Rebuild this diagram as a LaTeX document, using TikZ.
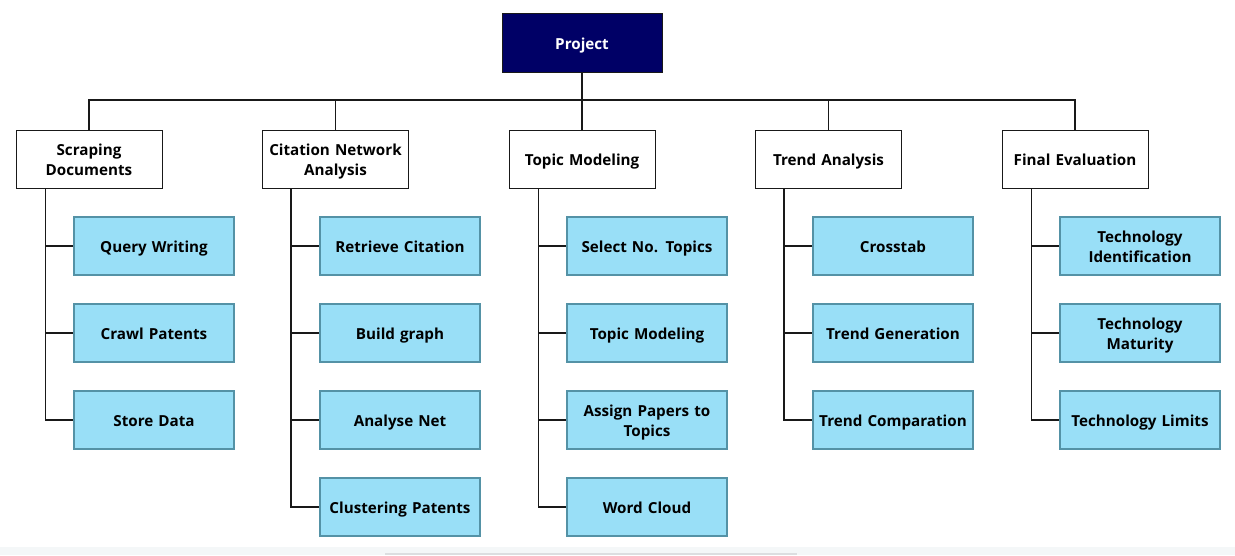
\documentclass[tikz,border=0pt]{standalone}
\usepackage{fontspec}
\setmainfont{Open Sans}
\definecolor{navy}{RGB}{0,0,102}
\definecolor{childfill}{RGB}{153,223,247}
\definecolor{childdraw}{RGB}{84,146,166}
\definecolor{linec}{RGB}{25,25,25}
\definecolor{bandc}{RGB}{244,247,248}
\definecolor{bandline}{RGB}{220,222,224}
\begin{document}
\begin{tikzpicture}[x=1pt,y=-1pt,
  font=\fontsize{15.2}{20}\selectfont\bfseries,
  lower/.style={execute at begin node={\rule{0pt}{17pt}}, execute at end node={\rule[-4pt]{0pt}{0pt}}},
  rootbox/.style={draw=linec,fill=navy,text=white,line width=1pt,minimum width=160pt,minimum height=59pt,inner sep=0pt,align=center,text width=156pt,lower},
  catbox/.style={draw=linec,fill=white,line width=1pt,minimum width=146pt,minimum height=58pt,inner sep=0pt,align=center,text width=142pt,lower},
  childbox/.style={draw=childdraw,fill=childfill,line width=1.2pt,minimum width=160pt,minimum height=58pt,inner sep=0pt,align=center,text width=156pt,lower},
  conn/.style={draw=linec,line width=1.6pt}]
\useasboundingbox (0,0) rectangle (1235,555);
\fill[bandc] (0,547) rectangle (1235,555);
\draw[bandline,line width=2pt] (385,554) -- (797,554);

\node[rootbox] (root) at (582,42.5) {Project};
\coordinate (bus) at (582,100);

\foreach \n/\cx/\t in {A/89/{Scraping\\Documents},B/335.5/{Citation Network\\Analysis},C/582/{Topic Modeling},D/828.5/{Trend Analysis},E/1075/{Final Evaluation}}{
  \node[catbox] (\n) at (\cx,159) {\t};
}
\draw[conn] (root.south) -- (bus);
\draw[conn] (A.north) |- (E.north |- bus) -- (E.north);
\foreach \n in {B,C,D}{\draw[conn] (\n.north |- bus) -- (\n.north);}

\node[childbox] (A1) at (154,246) {Query Writing};
\node[childbox] (A2) at (154,333) {Crawl Patents};
\node[childbox] (A3) at (154,420) {Store Data};

\node[childbox] (B1) at (400,246) {Retrieve Citation};
\node[childbox] (B2) at (400,333) {Build graph};
\node[childbox] (B3) at (400,420) {Analyse Net};
\node[childbox] (B4) at (400,507) {Clustering Patents};

\node[childbox] (C1) at (647,246) {Select No. Topics};
\node[childbox] (C2) at (647,333) {Topic Modeling};
\node[childbox] (C3) at (647,420) {Assign Papers to\\Topics};
\node[childbox] (C4) at (647,507) {Word Cloud};

\node[childbox] (D1) at (893,246) {Crosstab};
\node[childbox] (D2) at (893,333) {Trend Generation};
\node[childbox] (D3) at (893,420) {Trend Comparation};

\node[childbox] (E1) at (1140,246) {Technology\\Identification};
\node[childbox] (E2) at (1140,333) {Technology\\Maturity};
\node[childbox] (E3) at (1140,420) {Technology Limits};

% spines
\draw[conn] ([xshift=30pt]A.south west) |- (A3.west);
\foreach \i in {1,2}{\draw[conn] ([xshift=30pt]A.south west |- A\i.west) -- (A\i.west);}

\draw[conn] ([xshift=29pt]B.south west) |- (B4.west);
\foreach \i in {1,2,3}{\draw[conn] ([xshift=29pt]B.south west |- B\i.west) -- (B\i.west);}

\draw[conn] ([xshift=30pt]C.south west) |- (C4.west);
\foreach \i in {1,2,3}{\draw[conn] ([xshift=30pt]C.south west |- C\i.west) -- (C\i.west);}

\draw[conn] ([xshift=29pt]D.south west) |- (D3.west);
\foreach \i in {1,2}{\draw[conn] ([xshift=29pt]D.south west |- D\i.west) -- (D\i.west);}

\draw[conn] ([xshift=30pt]E.south west) |- (E3.west);
\foreach \i in {1,2}{\draw[conn] ([xshift=30pt]E.south west |- E\i.west) -- (E\i.west);}
\end{tikzpicture}
\end{document}
